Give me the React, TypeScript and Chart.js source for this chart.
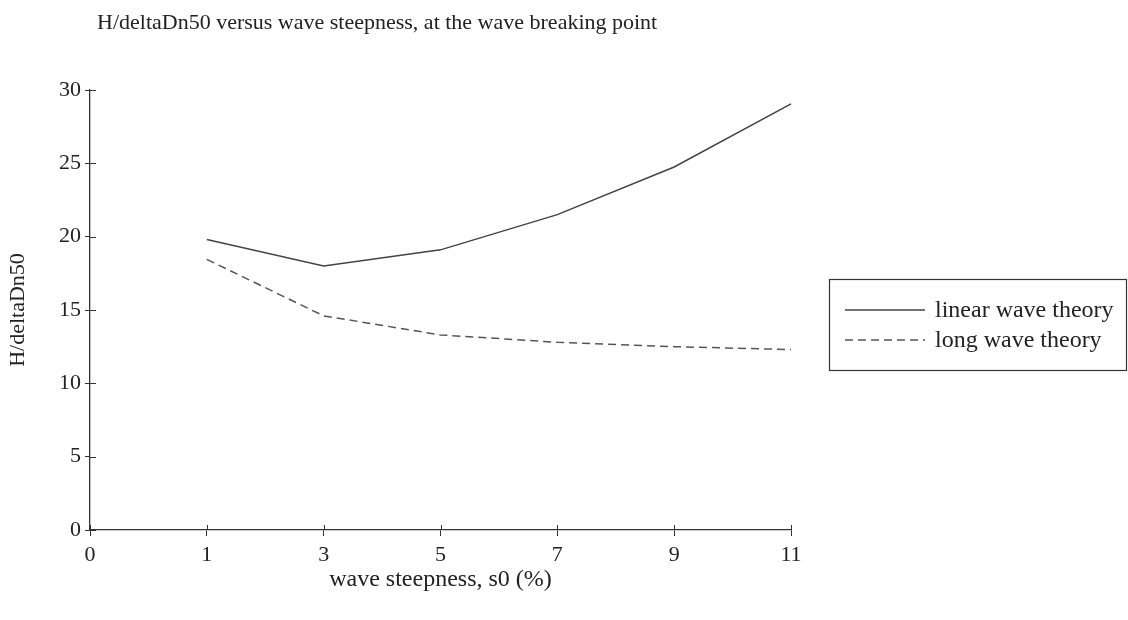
import React, { useEffect, useRef } from "react";
import { Chart, registerables } from "chart.js";

Chart.register(...registerables);

const chartTitle = "H/deltaDn50 versus wave steepness, at the wave breaking point";
const xAxisTitle = "wave steepness, s0 (%)";
const yAxisTitle = "H/deltaDn50";
const xLabels = ["0", "1", "3", "5", "7", "9", "11"];
const seriesNames = ["linear wave theory", "long wave theory"];
const linearWave = [null, 19.8, 18.0, 19.1, 21.5, 24.75, 29.05];
const longWave = [null, 18.45, 14.6, 13.3, 12.8, 12.5, 12.3];
const yTicksMin = 0;
const yTicksMax = 30;
const yTicksStep = 5;

const FONT = "'Liberation Serif', 'Times New Roman', serif";
const INK = "#222";
const AXIS = "#333";

const extrasPlugin = {
  id: "extras",
  afterDraw(chart: any) {
    const ctx = chart.ctx;
    const ca = chart.chartArea;
    const xs = chart.scales.x;
    const ys = chart.scales.y;
    ctx.save();
    // inner halves of the crossing tick marks
    ctx.strokeStyle = AXIS;
    ctx.lineWidth = 1;
    ctx.beginPath();
    ys.ticks.forEach((_t: any, i: number) => {
      const y = Math.round(ys.getPixelForTick(i)) + 0.5;
      ctx.moveTo(ca.left, y);
      ctx.lineTo(ca.left + 6, y);
    });
    xs.ticks.forEach((_t: any, i: number) => {
      const x = Math.round(xs.getPixelForTick(i)) + 0.5;
      ctx.moveTo(x, ca.bottom);
      ctx.lineTo(x, ca.bottom - 5);
    });
    ctx.stroke();
    // title
    ctx.fillStyle = INK;
    ctx.font = `22px ${FONT}`;
    ctx.textBaseline = "alphabetic";
    ctx.textAlign = "left";
    ctx.fillText(chartTitle, ca.left + 7, 29);
    // legend box
    const bx = ca.right + 38;
    const by = 279;
    const bw = 297;
    const bh = 91;
    ctx.strokeStyle = AXIS;
    ctx.lineWidth = 1.2;
    ctx.strokeRect(bx + 0.5, by + 0.5, bw, bh);
    ctx.font = `24px ${FONT}`;
    chart.data.datasets.forEach((ds: any, i: number) => {
      const ly = by + 31 + i * 30;
      ctx.beginPath();
      ctx.strokeStyle = ds.borderColor;
      ctx.lineWidth = ds.borderWidth;
      ctx.setLineDash(ds.borderDash || []);
      ctx.moveTo(bx + 16, ly);
      ctx.lineTo(bx + 96, ly);
      ctx.stroke();
      ctx.setLineDash([]);
      ctx.fillStyle = INK;
      ctx.fillText(ds.label, bx + 106, ly + 7);
    });
    ctx.restore();
  },
};

export default function App() {
  const ref = useRef<HTMLCanvasElement | null>(null);
  useEffect(() => {
    if (!ref.current) return;
    const chart = new Chart(ref.current, {
      type: "line",
      data: {
        labels: xLabels,
        datasets: [
          {
            label: seriesNames[0],
            data: linearWave,
            borderColor: "#444",
            borderWidth: 1.5,
            pointRadius: 0,
            fill: false,
            tension: 0,
          },
          {
            label: seriesNames[1],
            data: longWave,
            borderColor: "#555",
            borderWidth: 1.5,
            borderDash: [8, 5],
            pointRadius: 0,
            fill: false,
            tension: 0,
          },
        ],
      },
      options: {
        responsive: false,
        animation: false,
        layout: { padding: { top: 90, right: 337, left: 0, bottom: 0 } },
        plugins: {
          legend: { display: false },
          title: { display: false },
          tooltip: { enabled: false },
        },
        scales: {
          x: {
            type: "category",
            offset: false,
            grid: {
              drawOnChartArea: false,
              drawTicks: true,
              tickLength: 6,
              color: AXIS,
            },
            border: { color: AXIS, width: 1.3 },
            ticks: {
              color: INK,
              font: { family: FONT, size: 22 },
              padding: 6,
              autoSkip: false,
              maxRotation: 0,
            },
            title: {
              display: true,
              text: xAxisTitle,
              color: INK,
              font: { family: FONT, size: 24 },
              padding: { top: 0, bottom: 26 },
            },
            afterFit: (s: any) => {
              s.height = 90;
            },
          },
          y: {
            min: yTicksMin,
            max: yTicksMax,
            grid: {
              drawOnChartArea: false,
              drawTicks: true,
              tickLength: 5,
              color: AXIS,
            },
            border: { color: AXIS, width: 1.3 },
            ticks: {
              stepSize: yTicksStep,
              color: INK,
              font: { family: FONT, size: 22 },
              padding: 4,
            },
            title: {
              display: true,
              text: yAxisTitle,
              color: INK,
              font: { family: FONT, size: 22 },
              padding: { top: 5, bottom: 0 },
            },
            afterFit: (s: any) => {
              s.width = 90;
            },
          },
        },
      },
      plugins: [extrasPlugin],
    });
    return () => chart.destroy();
  }, []);
  return (
    <div style={{ position: "fixed", left: 0, top: 0, width: 1128, height: 620, background: "#fff" }}>
      <canvas ref={ref} width={1128} height={620} />
    </div>
  );
}
